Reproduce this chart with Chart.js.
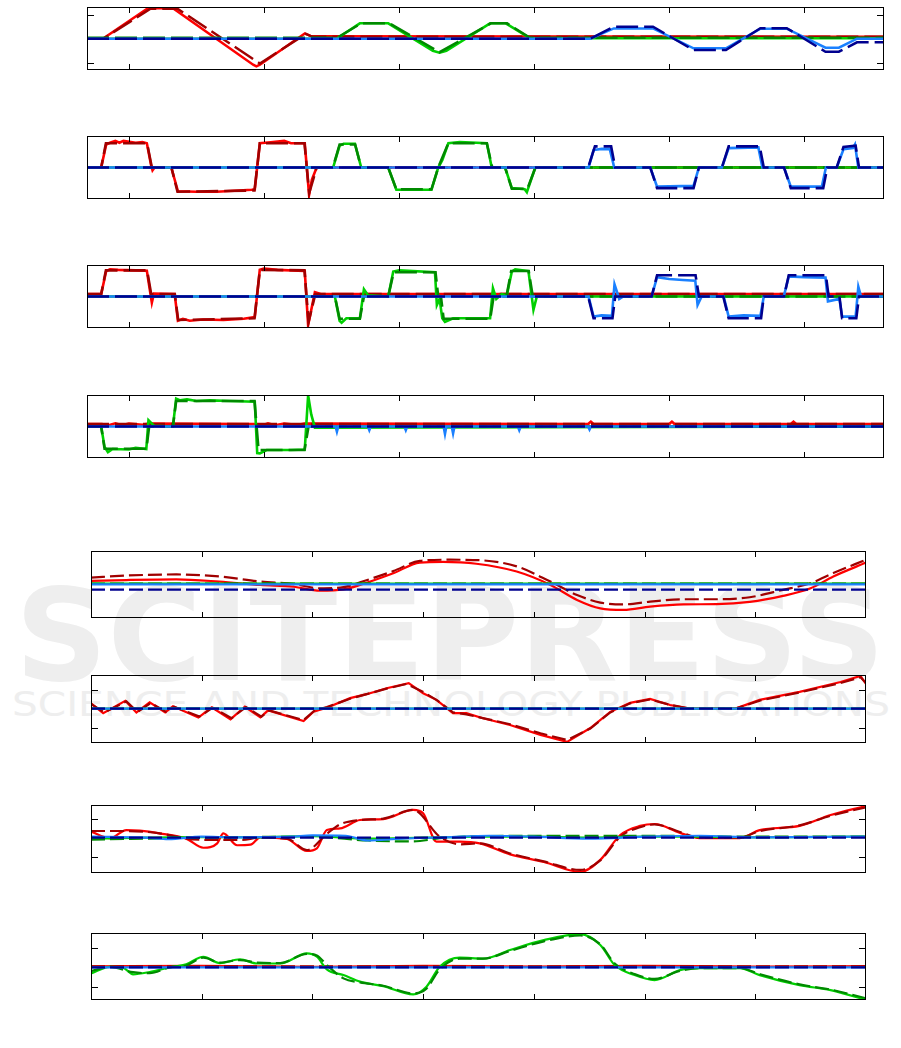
<!DOCTYPE html>
<html>
<head>
<meta charset="utf-8">
<script src="https://cdn.jsdelivr.net/npm/chart.js@4.4.0/dist/chart.umd.min.js"></script>
<style>
  html, body { margin: 0; padding: 0; background: #fff; }
  body { width: 901px; height: 1048px; position: relative; overflow: hidden; }
  .panel { position: absolute; }
  #watermark { position: absolute; left: 0; top: 0; }
</style>
</head>
<body>
<svg id="watermark" width="901" height="1048">
  <text x="15" y="680" textLength="870" lengthAdjust="spacingAndGlyphs" font-family="DejaVu Sans" font-weight="bold" font-size="128" fill="#eeeeee">SCITEPRESS</text>
  <text x="12" y="716" textLength="878" lengthAdjust="spacingAndGlyphs" font-family="DejaVu Sans" font-size="34" fill="#eeeeee">SCIENCE AND TECHNOLOGY PUBLICATIONS</text>
</svg>
<script>
// ---- axes ----
const topRange = [6.9, 65.9];
const botRange = [0, 70];
const xTicks = [10, 20, 30, 40, 50, 60];

// ---- panel 1 ----
const p1Red = [[6.9,0],[8.07,0],[11.41,1.27],[13.26,1.27],[19.2,-1.08],[19.44,-1.15],[19.7,-1.08],[23.03,0.22],[23.5,0.1],[65.9,0.08]];
const p1RedRef = [[6.9,0],[8.1,0],[11.6,1.25],[13.6,1.25],[19.7,-1.03],[23.1,0.2],[23.6,0.08],[65.9,0.08]];
const p1Green = [[6.9,0],[25.37,0],[27.1,0.64],[29.2,0.64],[32.5,-0.5],[33.0,-0.58],[33.5,-0.5],[36.74,0.64],[37.9,0.64],[39.7,0.02],[65.9,0.02]];
const p1GreenRef = [[6.9,0.04],[25.4,0.04],[27.2,0.64],[29.3,0.64],[33.0,-0.56],[36.8,0.64],[38.0,0.64],[39.7,0.04],[65.9,0.04]];
const p1Blue = [[6.9,0],[44.15,0],[45.9,0.43],[48.8,0.43],[51.8,-0.4],[54.2,-0.4],[56.75,0.42],[58.7,0.42],[61.57,-0.37],[62.56,-0.37],[63.9,0],[65.9,0]];
const p1BlueRef = [[6.9,0],[44.15,0],[45.9,0.5],[48.8,0.5],[51.8,-0.47],[54.2,-0.47],[56.75,0.44],[58.7,0.44],[61.57,-0.54],[62.56,-0.54],[63.9,-0.15],[65.9,-0.15]];

// ---- panel 2 ----
const p2Red = [[6.9,0],[7.95,0],[8.32,0.95],[8.6,1.02],[9.0,1.1],[9.3,1.02],[9.6,1.1],[10.5,1.02],[11.0,1.05],[11.33,1.0],[11.66,0.05],[11.75,-0.12],[11.9,0],[13.14,0],[13.63,-0.98],[15,-1.0],[16.5,-1.0],[17.5,-0.97],[19.1,-0.92],[19.32,-0.9],[19.69,1.0],[20.5,1.04],[21.5,1.1],[22.0,1.0],[23.02,1.0],[23.34,-1.13],[23.55,-0.5],[23.9,0],[65.9,0]];
const p2RedRef = [[6.9,0],[7.95,0],[8.3,1.0],[11.35,1.0],[11.7,0],[13.15,0],[13.6,-1.0],[19.3,-0.95],[19.7,1.0],[23.0,1.0],[23.35,-1.05],[23.9,0],[65.9,0]];
const p2Green = [[6.9,0],[25.12,0],[25.6,0.9],[25.9,0.98],[26.73,0.98],[27.2,0],[29.2,0],[29.8,-0.92],[32.4,-0.92],[32.9,0],[33.2,0.3],[33.65,1.0],[34.5,1.05],[36.5,1.0],[36.86,0],[37.85,0],[38.35,-0.85],[39.3,-0.9],[39.46,-1.02],[40.08,0],[65.9,0]];
const p2GreenRef = [[6.9,0],[25.1,0],[25.6,0.95],[26.75,0.95],[27.2,0],[29.2,0],[29.8,-0.9],[32.4,-0.9],[32.9,0],[33.65,1.0],[36.5,1.0],[36.9,0],[37.85,0],[38.35,-0.88],[39.5,-0.88],[40.1,0],[65.9,0]];
const p2Blue = [[6.9,0],[44.03,0],[44.4,0.72],[45.0,0.77],[45.6,0.76],[45.93,0],[48.6,0],[49.1,-0.79],[51.8,-0.76],[52.2,0],[53.9,0],[54.4,0.8],[56.6,0.83],[56.9,0],[58.5,0],[59.0,-0.79],[61.3,-0.79],[61.6,0],[62.4,0],[62.9,0.75],[63.6,0.8],[63.75,0.95],[64.0,0],[65.9,0]];
const p2BlueRef = [[6.9,0],[44.0,0],[44.5,0.87],[45.7,0.87],[46.0,0],[48.6,0],[49.1,-0.85],[51.8,-0.85],[52.2,0],[53.9,0],[54.4,0.87],[56.7,0.87],[57.0,0],[58.5,0],[59.0,-0.85],[61.4,-0.85],[61.7,0],[62.4,0],[62.9,0.85],[63.8,0.9],[64.05,0],[65.9,0]];

// ---- panel 3 ----
const p3Red = [[6.9,0.1],[7.95,0.1],[8.32,1.05],[8.6,1.12],[9.2,1.1],[10.5,1.08],[11.33,1.06],[11.6,0.1],[11.7,-0.25],[11.85,0.12],[13.39,0.1],[13.63,-1.0],[14.0,-0.92],[14.5,-1.0],[15.5,-0.95],[17,-0.97],[18.5,-0.92],[19.32,-0.85],[19.69,1.1],[20,1.15],[21,1.1],[23.02,1.05],[23.27,-1.18],[23.77,0.18],[24.2,0.1],[65.9,0.1]];
const p3RedRef = [[6.9,0.1],[7.95,0.1],[8.3,1.08],[11.35,1.08],[11.65,0.1],[13.4,0.1],[13.65,-0.97],[19.3,-0.9],[19.7,1.1],[23.0,1.08],[23.3,-1.05],[23.8,0.1],[65.9,0.1]];
const p3Green = [[6.9,0],[25.25,0],[25.6,-1.0],[25.75,-1.08],[26.1,-0.9],[27.1,-0.9],[27.4,0.3],[27.7,0.05],[29.2,0],[29.57,1.03],[30,1.08],[32.66,1.0],[32.8,-0.35],[33.0,-0.1],[33.2,-0.9],[33.4,-1.05],[34,-0.9],[36.74,-0.9],[36.95,0.34],[37.2,-0.1],[37.6,0.1],[37.98,0.05],[38.35,1.03],[38.6,1.12],[39.58,1.05],[39.95,-0.55],[40.2,0],[65.9,0]];
const p3GreenRef = [[6.9,0],[25.25,0],[25.6,-0.92],[27.1,-0.92],[27.4,0],[29.2,0],[29.6,1.0],[32.7,1.0],[32.9,0],[33.1,0],[33.3,-0.92],[36.75,-0.92],[37.0,0],[37.95,0],[38.3,1.05],[39.6,1.05],[39.9,0],[65.9,0]];
const p3Blue = [[6.9,0],[44.03,0],[44.4,-0.83],[45.0,-0.78],[45.76,-0.8],[45.95,0.5],[46.3,-0.1],[46.6,0],[48.7,0],[49.1,0.8],[50,0.72],[51,0.68],[51.93,0.65],[52.1,-0.35],[52.4,0],[54.03,0],[54.4,-0.83],[55.5,-0.78],[56.75,-0.8],[57.0,0],[58.48,0],[58.85,0.83],[60,0.8],[61.57,0.78],[61.75,-0.2],[62.6,-0.1],[62.8,-0.83],[63.8,-0.83],[64.0,0.4],[64.2,0],[65.9,0]];
const p3BlueRef = [[6.9,0],[44.0,0],[44.4,-0.9],[45.8,-0.9],[46.0,0],[48.7,0],[49.1,0.88],[51.95,0.88],[52.2,0],[54.0,0],[54.4,-0.9],[56.8,-0.9],[57.0,0],[58.5,0],[58.85,0.88],[61.6,0.88],[61.8,0],[62.6,0],[62.8,-0.9],[63.85,-0.9],[64.05,0],[65.9,0]];

// ---- panel 4 ----
const p4Red = [[6.9,0.1],[8,0.1],[8.5,0.05],[9,0.13],[9.5,0.05],[10,0.12],[11,0.07],[11.5,0.12],[19.3,0.1],[19.8,0.03],[20.3,0.13],[20.8,0.05],[21.5,0.12],[22.5,0.06],[23,0.12],[44,0.1],[44.2,0.2],[44.4,0.1],[50,0.1],[50.2,0.2],[50.4,0.1],[59,0.1],[59.2,0.2],[59.4,0.1],[65.9,0.1]];
const p4RedRef = [[6.9,0.1],[65.9,0.1]];
const p4Green = [[6.9,0],[7.95,0],[8.2,-0.84],[8.45,-1.06],[8.8,-0.93],[10,-0.95],[10.5,-0.88],[11.29,-0.93],[11.45,0.26],[11.85,0.03],[13.26,0],[13.5,1.15],[13.8,1.08],[14.3,1.12],[15,1.05],[16,1.08],[17.5,1.05],[19.32,1.02],[19.5,-1.1],[19.69,-1.11],[20.2,-0.97],[22,-0.97],[23.02,-0.95],[23.27,1.29],[23.5,0.5],[23.77,-0.05],[65.9,0]];
const p4GreenRef = [[6.9,0],[7.95,0],[8.2,-0.92],[11.3,-0.92],[11.5,0],[13.26,0],[13.5,1.05],[19.3,1.05],[19.6,-0.97],[23.0,-0.97],[23.3,0],[65.9,0]];
const p4Blue = [[6.9,0],[25.3,0],[25.4,-0.21],[25.5,0],[27.7,0],[27.8,-0.15],[27.9,0],[30.4,0],[30.5,-0.15],[30.6,0],[33.3,0],[33.4,-0.3],[33.5,0],[33.9,0],[34.0,-0.28],[34.1,0],[38.8,0],[38.9,-0.15],[39.0,0],[44,0],[44.1,-0.12],[44.2,0],[65.9,0]];
const p4BlueRef = [[6.9,0],[65.9,0]];

// ---- panel 5 ----
const p5Red = [[0,0.16],[3.2,0.2],[7.7,0.23],[11.6,0.13],[15.3,-0.02],[18.3,-0.1],[20.7,-0.28],[22.8,-0.22],[24.3,-0.02],[27.3,0.5],[29.7,0.98],[31.8,1.01],[34.8,0.93],[38.45,0.58],[41.5,-0.02],[43.9,-0.69],[46,-1.07],[48.1,-1.14],[50.5,-0.99],[53.5,-0.89],[56.5,-0.88],[59.5,-0.78],[62.5,-0.51],[65,-0.17],[67.05,0.36],[70,0.98]];
const p5RedRef = [[0,0.31],[3.2,0.4],[7.7,0.45],[11.6,0.36],[15.3,0.13],[18.3,0.02],[20.7,-0.17],[22.8,-0.12],[24.3,0.1],[27.3,0.6],[29.7,1.06],[32.4,1.11],[35.4,1.08],[38.45,0.81],[41.5,0.13],[43.9,-0.47],[46,-0.81],[48.1,-0.89],[50.5,-0.77],[53.5,-0.66],[56.5,-0.66],[59.5,-0.57],[62.5,-0.24],[65,0.06],[67.05,0.51],[70,1.11]];
const p5Green = [[0,0.04],[70,0.04]];
const p5GreenRef = [[0,0.04],[70,0.04]];
const p5Blue = [[0,0.01],[70,0.01]];
const p5BlueRef = [[0,-0.23],[70,-0.23]];

// ---- panel 6 ----
const p6Red = [[0,0.28],[1.1,-0.24],[3.1,0.41],[4.1,-0.2],[5.3,0.33],[6.7,-0.2],[7.4,0.12],[9.7,-0.47],[10.9,0.07],[12.6,-0.56],[13.9,0.1],[15.3,-0.46],[16.0,-0.09],[19.2,-0.65],[20.1,-0.16],[21.3,0.05],[23.4,0.55],[24.9,0.76],[26.7,1.07],[28.7,1.34],[30.0,0.81],[31.2,0.46],[32.7,-0.24],[33.9,-0.24],[35.4,-0.51],[37.85,-0.86],[40.6,-1.38],[43.0,-1.75],[45.1,-1.02],[46.9,-0.17],[48.7,0.3],[50.5,0.51],[52.3,0.19],[54.1,0],[58.2,0],[60.4,0.46],[64.0,0.88],[67.7,1.4],[69.5,1.72],[70,1.3]];
const p6RedRef = [[0,0.25],[1.2,-0.2],[3.2,0.38],[4.2,-0.18],[5.4,0.3],[6.8,-0.18],[7.5,0.1],[9.8,-0.42],[11.0,0.05],[12.7,-0.5],[14.0,0.08],[15.4,-0.42],[16.1,-0.1],[19.2,-0.6],[20.2,-0.1],[21.3,0.08],[23.4,0.52],[24.9,0.76],[26.7,1.05],[28.5,1.3],[30.1,0.85],[31.3,0.42],[32.7,-0.2],[33.9,-0.3],[35.4,-0.5],[37.85,-0.82],[40.6,-1.3],[43.0,-1.65],[45.1,-1.05],[46.9,-0.2],[48.7,0.28],[50.5,0.48],[52.3,0.2],[54.1,0],[58.2,0],[60.4,0.42],[64.0,0.85],[67.7,1.35],[69.5,1.65],[70,1.35]];
const p6Green = [[0,0],[70,0]];
const p6GreenRef = [[0,0],[70,0]];
const p6Blue = [[0,0],[70,0]];
const p6BlueRef = [[0,0],[70,0]];

// ---- panel 7 ----
const p7Red = [[0,0.32],[1.7,-0.03],[3.2,0.4],[4.4,0.37],[6.2,0.23],[8.6,-0.05],[10.15,-0.53],[11.4,-0.3],[11.95,0.23],[13.2,-0.4],[14.4,-0.37],[15.3,0.02],[17.7,-0.07],[19.5,-0.7],[20.4,-0.56],[21.3,0.4],[22.5,0.49],[24.3,0.93],[26.4,0.98],[29.1,1.46],[30.0,1.28],[31.2,-0.21],[33.3,-0.21],[35.1,-0.3],[37.85,-0.88],[40.9,-1.28],[44.2,-1.8],[46.0,-1.17],[47.8,0.14],[49.6,0.62],[50.9,0.72],[53.2,0.25],[55.0,-0.02],[58.6,-0.02],[60.4,0.4],[64.0,0.62],[66.8,1.19],[70,1.67]];
const p7RedRef = [[0,0.35],[3.2,0.35],[6.2,0.23],[8.6,-0.05],[11.1,-0.12],[13.5,-0.12],[15.3,0],[17.7,-0.05],[19.5,-0.65],[21.3,0.2],[22.5,0.7],[24.3,0.93],[26.4,1.0],[29.1,1.46],[31.5,0.05],[33.3,-0.35],[35.1,-0.3],[37.85,-0.83],[40.9,-1.25],[44.2,-1.7],[46.0,-1.2],[47.8,0.05],[49.6,0.55],[50.9,0.7],[53.2,0.3],[55.0,0],[58.6,0],[60.4,0.35],[64.0,0.65],[66.8,1.15],[70,1.6]];
const p7Green = [[0,-0.05],[5,0.0],[10,0.03],[15,0.02],[20,0.08],[25,-0.05],[30,0.0],[35,0.05],[40,0.05],[45,0.0],[50,0.05],[55,0.05],[60,0.02],[70,0.05]];
const p7GreenRef = [[0,-0.1],[10,0],[20,0.05],[25,-0.15],[29,-0.2],[32,0],[40,0.1],[50,0.1],[60,0.05],[70,0.05]];
const p7Blue = [[0,0.05],[5,0.0],[7,-0.08],[10,0.05],[13,0.02],[18,0.05],[20,0.12],[23,0.1],[25,-0.15],[28,-0.05],[32,0.02],[36,0.1],[40,0.05],[45,-0.05],[50,0.05],[55,0.1],[60,0.02],[70,0.05]];
const p7BlueRef = [[0,0],[70,0]];

// ---- panel 8 ----
const p8Red = [[0,0.05],[10,0.08],[20,0.03],[30,0.08],[40,0.04],[50,0.08],[60,0.04],[70,0.06]];
const p8RedRef = [[0,0.05],[70,0.05]];
const p8Green = [[0,-0.31],[1.7,0.03],[2.9,-0.02],[3.8,-0.36],[5.3,-0.24],[7.1,0],[8.6,0.16],[10.15,0.55],[11.65,0.22],[13.46,0.42],[15,0.2],[17.1,0.2],[19.5,0.72],[20.4,0.55],[21.3,-0.1],[22.8,-0.4],[24.3,-0.74],[26.4,-0.97],[29.1,-1.4],[30.3,-1.0],[31.5,0.03],[33.3,0.5],[35.4,0.45],[37.85,0.9],[40.9,1.41],[44.2,1.72],[46,1.16],[47.3,0.12],[49.1,-0.4],[50.9,-0.66],[53.2,-0.14],[55,-0.04],[58.6,-0.04],[60.4,-0.4],[64,-0.92],[66.8,-1.18],[70,-1.69]];
const p8GreenRef = [[0,-0.2],[1.7,0.03],[3.8,-0.25],[5.3,-0.3],[7.1,0],[8.6,0.1],[10.15,0.5],[11.65,0.25],[13.46,0.38],[15,0.25],[17.1,0.22],[19.5,0.7],[20.4,0.62],[21.3,0.12],[22.8,-0.57],[24.3,-0.78],[26.4,-0.95],[29.1,-1.35],[30.3,-1.1],[31.5,-0.1],[33.3,0.45],[35.4,0.45],[37.85,0.85],[40.9,1.35],[44.2,1.65],[46,1.2],[47.3,0.2],[49.1,-0.35],[50.9,-0.6],[53.2,-0.18],[55,-0.04],[58.6,-0.04],[60.4,-0.35],[64,-0.88],[66.8,-1.15],[70,-1.6]];
const p8Blue = [[0,0],[70,0]];
const p8BlueRef = [[0,0],[70,0]];

// ---- drawing ----
const colors = { red: '#ff0000', redRef: '#a00000', green: '#00d000', greenRef: '#008a00', blue: '#1a80ff', blueRef: '#00008f' };
const PAD = 10;

const panels = [
    { left: 87, top: 7,   w: 797, h: 63, xr: topRange, yr: [-1.3, 1.32], yTicks: [-1, 1], smooth: false, lw: 2.5, dash: [22, 6], series: [p1Red, p1RedRef, p1Green, p1GreenRef, p1Blue, p1BlueRef] },
    { left: 87, top: 136, w: 797, h: 63, xr: topRange, yr: [-1.3, 1.3],  yTicks: [],      smooth: false, lw: 2.6, dash: [22, 6], series: [p2Red, p2RedRef, p2Green, p2GreenRef, p2Blue, p2BlueRef] },
    { left: 87, top: 265, w: 797, h: 63, xr: topRange, yr: [-1.3, 1.3],  yTicks: [],      smooth: false, lw: 2.6, dash: [22, 6], series: [p3Red, p3RedRef, p3Green, p3GreenRef, p3Blue, p3BlueRef] },
    { left: 87, top: 395, w: 797, h: 63, xr: topRange, yr: [-1.3, 1.3],  yTicks: [],      smooth: false, lw: 2.6, dash: [22, 6], series: [p4Red, p4RedRef, p4Green, p4GreenRef, p4Blue, p4BlueRef] },
    { left: 91, top: 551, w: 775, h: 67, xr: botRange, yr: [-1.5, 1.5],  yTicks: [],      smooth: true,  lw: 2.2, dash: [14, 5], series: [p5Red, p5RedRef, p5Green, p5GreenRef, p5Blue, p5BlueRef] },
    { left: 91, top: 675, w: 775, h: 68, xr: botRange, yr: [-1.81, 1.77], yTicks: [-1, 1], smooth: false, lw: 2.2, dash: [14, 5], series: [p6Red, p6RedRef, p6Green, p6GreenRef, p6Blue, p6BlueRef] },
    { left: 91, top: 805, w: 775, h: 68, xr: botRange, yr: [-1.86, 1.72], yTicks: [-1, 1], smooth: true,  lw: 2.2, dash: [14, 5], series: [p7Red, p7RedRef, p7Green, p7GreenRef, p7Blue, p7BlueRef] },
    { left: 91, top: 933, w: 775, h: 67, xr: botRange, yr: [-1.69, 1.78], yTicks: [-1, 1], smooth: true,  lw: 2.2, dash: [14, 5], series: [p8Red, p8RedRef, p8Green, p8GreenRef, p8Blue, p8BlueRef] }
];

// frame + inward tick marks, placed through the chart's own scales
const framePlugin = {
    id: 'frame',
    afterDatasetsDraw(chart, args, opts) {
        const { ctx, chartArea: a, scales: { x, y } } = chart;
        ctx.save();
        ctx.strokeStyle = '#000';
        ctx.lineWidth = 1;
        ctx.setLineDash([]);
        ctx.beginPath();
        opts.xTicks.forEach(v => {
            const px = Math.round(x.getPixelForValue(v)) + 0.5;
            ctx.moveTo(px, a.bottom); ctx.lineTo(px, a.bottom - 6);
            ctx.moveTo(px, a.top); ctx.lineTo(px, a.top + 6);
        });
        opts.yTicks.forEach(v => {
            const py = Math.round(y.getPixelForValue(v)) + 0.5;
            ctx.moveTo(a.left, py); ctx.lineTo(a.left + 7, py);
            ctx.moveTo(a.right, py); ctx.lineTo(a.right - 7, py);
        });
        ctx.stroke();
        ctx.strokeRect(a.left + 0.5, a.top + 0.5, a.right - a.left - 1, a.bottom - a.top - 1);
        ctx.restore();
    }
};

const styles = [
    { c: colors.red, ref: false, order: 5 },
    { c: colors.redRef, ref: true, order: 4 },
    { c: colors.green, ref: false, order: 3 },
    { c: colors.greenRef, ref: true, order: 2 },
    { c: colors.blue, ref: false, order: 1 },
    { c: colors.blueRef, ref: true, order: 0 }
];

panels.forEach(p => {
    const div = document.createElement('div');
    div.className = 'panel';
    div.style.left = (p.left - PAD) + 'px';
    div.style.top = (p.top - PAD) + 'px';
    const canvas = document.createElement('canvas');
    canvas.width = p.w + 2 * PAD;
    canvas.height = p.h + 2 * PAD;
    div.appendChild(canvas);
    document.body.appendChild(div);

    new Chart(canvas, {
        type: 'line',
        data: {
            datasets: p.series.map((s, i) => ({
                data: s.map(pt => ({ x: pt[0], y: pt[1] })),
                borderColor: styles[i].c,
                borderWidth: p.lw,
                borderDash: styles[i].ref ? p.dash : [],
                pointRadius: 0,
                fill: false,
                tension: 0,
                cubicInterpolationMode: p.smooth ? 'monotone' : 'default',
                order: styles[i].order
            }))
        },
        options: {
            responsive: false,
            animation: false,
            devicePixelRatio: 1,
            events: [],
            layout: { padding: PAD },
            plugins: {
                legend: { display: false },
                tooltip: { enabled: false },
                frame: { xTicks: xTicks, yTicks: p.yTicks }
            },
            scales: {
                x: { type: 'linear', min: p.xr[0], max: p.xr[1], display: false },
                y: { type: 'linear', min: p.yr[0], max: p.yr[1], display: false }
            }
        },
        plugins: [framePlugin]
    });
});
</script>
</body>
</html>
